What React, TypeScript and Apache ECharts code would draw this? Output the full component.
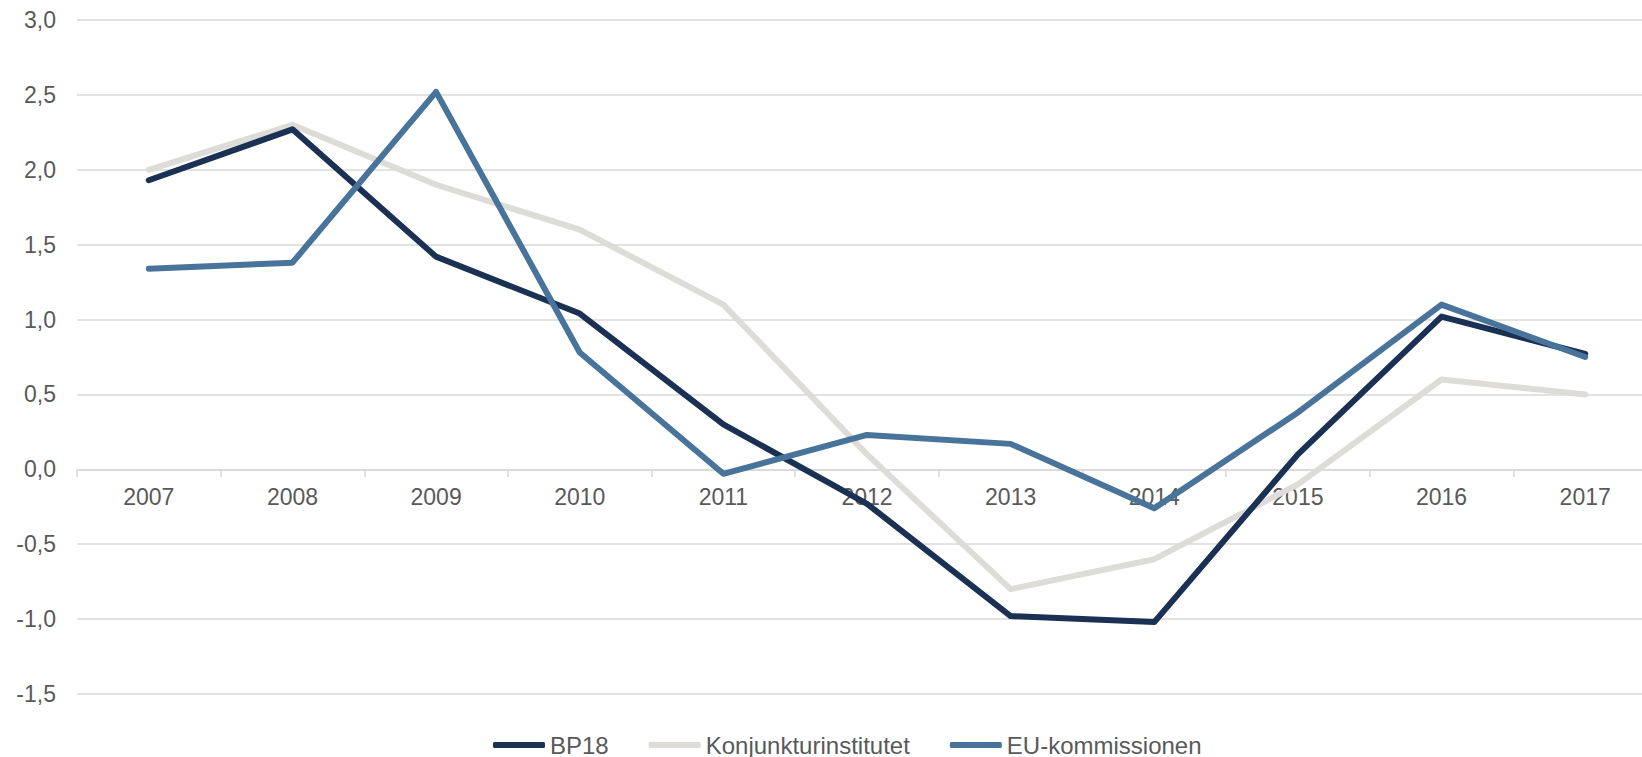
import React, { useEffect, useRef } from "react";
import * as echarts from "echarts";

const categories = ["2007", "2008", "2009", "2010", "2011", "2012", "2013", "2014", "2015", "2016", "2017"];
const bp18 = [1.93, 2.27, 1.42, 1.04, 0.3, -0.23, -0.98, -1.02, 0.1, 1.02, 0.77];
const konjunkturinstitutet = [2.0, 2.3, 1.9, 1.6, 1.1, 0.1, -0.8, -0.6, -0.1, 0.6, 0.5];
const euKommissionen = [1.34, 1.38, 2.52, 0.78, -0.03, 0.23, 0.17, -0.26, 0.38, 1.1, 0.75];

const FONT = "'Liberation Sans', Arial, Helvetica, sans-serif";
const TEXT = "#595959";
const GRID = "#d9d9d9";

export default function App() {
  const ref = useRef<HTMLDivElement>(null);
  useEffect(() => {
    if (!ref.current) return;
    const chart = echarts.init(ref.current, null, { renderer: "svg" });
    const mk = (name: string, data: number[], color: string, z: number) => ({
      name,
      type: "line",
      data,
      symbol: "none",
      z,
      lineStyle: { color, width: 6, cap: "round", join: "round" },
      itemStyle: { color },
    });
    chart.setOption({
      animation: false,
      grid: { left: 77, width: 1580, top: 20, bottom: 63, containLabel: false, outerBoundsMode: "none" },
      legend: {
        left: 488,
        top: 728,
        itemWidth: 52,
        itemHeight: 6,
        itemGap: 40,
        icon: "roundRect",
        textStyle: { color: TEXT, fontSize: 24, fontFamily: FONT },
        data: ["BP18", "Konjunkturinstitutet", "EU-kommissionen"],
      },
      xAxis: {
        type: "category",
        data: categories,
        boundaryGap: true,
        offset: -224,
        axisLine: { onZero: false, lineStyle: { color: GRID, width: 1.5 } },
        axisTick: { show: true, length: 7, lineStyle: { color: GRID, width: 1.5 } },
        axisLabel: { color: TEXT, fontSize: 23, fontFamily: FONT, margin: 15 },
      },
      yAxis: {
        type: "value",
        min: -1.5,
        max: 3,
        interval: 0.5,
        axisLine: { show: false },
        axisTick: { show: false },
        splitLine: { lineStyle: { color: GRID, width: 1.5 } },
        axisLabel: {
          color: TEXT,
          fontSize: 23,
          fontFamily: FONT,
          margin: 21,
          formatter: (v: number) => v.toFixed(1).replace(".", ","),
        },
      },
      series: [
        mk("BP18", bp18, "#1b3153", 3),
        mk("Konjunkturinstitutet", konjunkturinstitutet, "#dedcd8", 2),
        mk("EU-kommissionen", euKommissionen, "#48739a", 4),
      ],
    });
    return () => chart.dispose();
  }, []);
  return (
    <div
      ref={ref}
      style={{ position: "fixed", left: 0, top: 0, width: 1642, height: 757, background: "#fff" }}
    />
  );
}
